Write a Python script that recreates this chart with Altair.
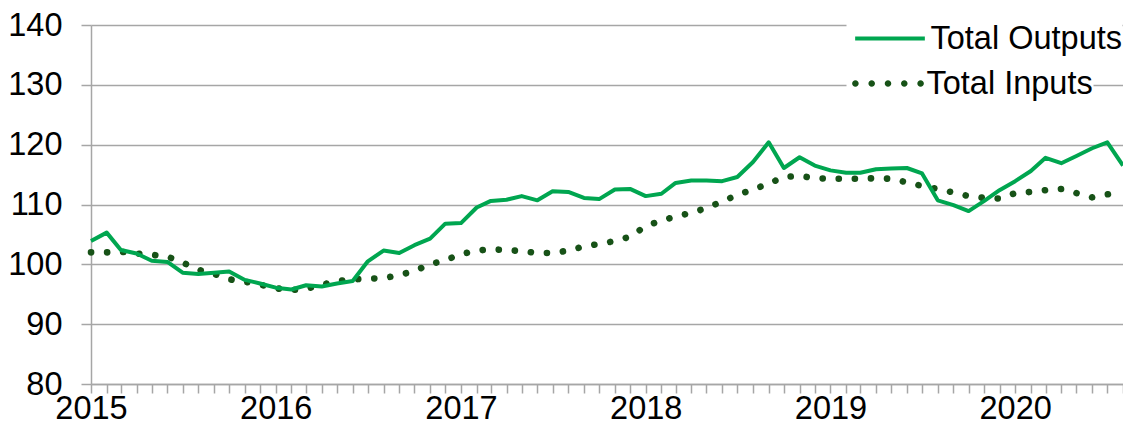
import altair as alt
import pandas as pd

# Monthly index values, Jan 2015 .. Aug 2020
months = [f"{2015 + i // 12}-{i % 12 + 1:02d}-01" for i in range(68)]

total_outputs = [
    103.9, 105.3, 102.4, 101.8, 100.6, 100.4, 98.6, 98.4, 98.6, 98.8, 97.4, 96.8,
    96.1, 95.8, 96.5, 96.3, 96.8, 97.2, 100.5, 102.3, 101.9, 103.2, 104.3, 106.8,
    106.9, 109.5, 110.6, 110.8, 111.4, 110.7, 112.2, 112.1, 111.1, 110.9, 112.5, 112.6,
    111.4, 111.8, 113.6, 114.0, 114.0, 113.9, 114.6, 117.1, 120.4, 116.1, 117.9, 116.5,
    115.7, 115.3, 115.3, 115.9, 116.0, 116.1, 115.2, 110.7, 109.9, 108.9, 110.6, 112.4,
    113.9, 115.6, 117.8, 116.9, 118.1, 119.4, 120.4, 116.5,
]

total_inputs = [
    102.0, 102.0, 102.1, 101.8, 101.6, 101.3, 100.3, 99.1, 98.4, 97.5, 97.1, 96.6,
    96.0, 95.7, 95.9, 96.6, 97.2, 97.5, 97.6, 97.7, 98.2, 98.9, 100.0, 100.7,
    101.7, 102.3, 102.5, 102.4, 102.2, 101.9, 101.9, 102.3, 103.0, 103.4, 103.9, 104.6,
    106.4, 107.3, 108.0, 108.6, 109.4, 110.5, 111.6, 112.5, 113.5, 114.6, 114.8, 114.4,
    114.3, 114.3, 114.3, 114.4, 114.3, 113.7, 113.1, 112.6, 112.0, 111.4, 111.1, 111.0,
    111.9, 112.1, 112.4, 112.6, 111.9, 111.2, 111.7, 112.0,
]

series_names = ["Total Outputs", "Total Inputs"]
y_ticks = [80, 90, 100, 110, 120, 130, 140]

GREEN = "#00A650"
DARK = "#175217"
GRID = "#a6a6a6"
FONT = "Liberation Sans"
FS = 32.5

df_out = pd.DataFrame({"date": months, "value": total_outputs, "series": series_names[0]})
df_in = pd.DataFrame({"date": months, "value": total_inputs, "series": series_names[1]})

tick_values = [
    alt.DateTime(year=2015 + i // 12, month=i % 12 + 1, date=1, utc=True) for i in range(68)
]

x_enc = alt.X(
    "date:T",
    scale=alt.Scale(type="utc", domain=[months[0], months[-1]], nice=False),
    axis=alt.Axis(
        title=None,
        values=tick_values,
        labelExpr="utcmonth(datum.value) == 0 ? '' + utcyear(datum.value) : ''",
        labelOverlap=False,
        labelFlush=False,
        labelBound=False,
        grid=False,
        tickSize=9,
        labelPadding=-1,
        labelFontSize=FS,
    ),
)

y_enc = alt.Y(
    "value:Q",
    scale=alt.Scale(domain=[80, 140], nice=False, zero=False),
    axis=alt.Axis(
        title=None,
        values=y_ticks,
        grid=True,
        tickSize=10,
        labelPadding=19,
        labelFontSize=FS,
    ),
)

# custom legend symbols (unit coordinates, scaled by sqrt(symbolSize)/2)
dot_xs = [-1.59, -0.795, 0.0, 0.795, 1.59]
r = 0.16
dots_path = "".join(
    f"M{x - r:.3f},0a{r},{r} 0 1,0 {2 * r:.3f},0a{r},{r} 0 1,0 {-2 * r:.3f},0Z" for x in dot_xs
)

common_legend = dict(
    orient="none",
    legendX=755.5,
    title=None,
    symbolSize=1681,
    symbolOffset=21,
    labelOffset=18,
    labelFontSize=FS,
    labelFont=FONT,
    labelColor="black",
    labelLimit=400,
    padding=0,
    fillColor="white",
)

legend_out = alt.Legend(
    legendY=-9,
    symbolType="M-1.7,0H1.7",
    symbolStrokeWidth=4,
    **common_legend,
)

legend_in = alt.Legend(
    legendY=38,
    symbolType=dots_path,
    symbolStrokeWidth=0,
    symbolFillColor=DARK,
    symbolDash=[1, 0],
    **common_legend,
)

line_out = alt.Chart(df_out).mark_line(strokeWidth=4, strokeJoin="round").encode(
    x=x_enc,
    y=y_enc,
    color=alt.Color(
        "series:N",
        scale=alt.Scale(domain=[series_names[0]], range=[GREEN]),
        legend=legend_out,
    ),
)

line_in = alt.Chart(df_in).mark_line(
    strokeWidth=6.6, strokeDash=[0.1, 16], strokeCap="round"
).encode(
    x=x_enc,
    y=y_enc,
    color=alt.Color(
        "series:N",
        scale=alt.Scale(domain=[series_names[1]], range=[DARK]),
        legend=legend_in,
    ),
)

chart = (
    alt.layer(line_in, line_out)
    .resolve_scale(color="independent")
    .properties(
        width=1032,
        height=359,
        autosize=alt.AutoSizeParams(type="none"),
        padding={"left": 83, "top": 17, "right": 0, "bottom": 42},
    )
    .configure(font=FONT)
    .configure_view(stroke=None)
    .configure_axis(
        domainColor=GRID,
        domainWidth=1.5,
        tickColor=GRID,
        tickWidth=1.5,
        gridColor=GRID,
        gridWidth=1.5,
        labelColor="black",
        labelFont=FONT,
    )
)

chart.save("out.html", embed_options={"renderer": "svg", "actions": False})
